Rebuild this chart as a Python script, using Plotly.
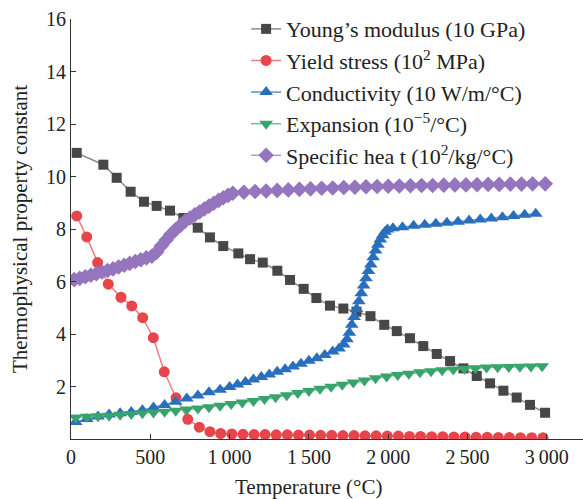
import plotly.graph_objects as go

# ---------------- data ----------------
young_T = [36, 204, 288, 376, 460, 540, 624, 708, 799, 876, 960, 1055, 1129, 1209, 1301, 1381,
           1467, 1547, 1633, 1717, 1800, 1888, 1975, 2054, 2137, 2221, 2306, 2390, 2474, 2558,
           2642, 2726, 2810, 2894, 2989]
young_v = [10.9, 10.45, 9.95, 9.42, 9.04, 8.88, 8.70, 8.42, 8.05, 7.68, 7.35, 7.07, 6.85, 6.72,
           6.41, 6.06, 5.72, 5.37, 5.08, 4.97, 4.85, 4.68, 4.35, 4.11, 3.84, 3.54, 3.24, 2.97,
           2.69, 2.40, 2.12, 1.84, 1.58, 1.30, 1.00]

yield_T = [36, 99, 168, 235, 315, 383, 452, 519, 588, 662, 736, 809, 876, 944, 1014, 1084, 1154,
           1224, 1294, 1364, 1434, 1504, 1574, 1644, 1714, 1784, 1854, 1924, 1994, 2064, 2134,
           2204, 2274, 2344, 2414, 2484, 2554, 2624, 2694, 2764, 2834, 2904, 2976]
yield_v = [8.50, 7.70, 6.72, 5.90, 5.40, 5.07, 4.62, 3.86, 2.56, 1.57, 0.75, 0.45, 0.28, 0.21,
           0.19, 0.18, 0.17, 0.17, 0.16, 0.16, 0.15, 0.15, 0.14, 0.14, 0.13, 0.13, 0.12, 0.12,
           0.11, 0.11, 0.10, 0.10, 0.09, 0.09, 0.08, 0.08, 0.07, 0.07, 0.06, 0.06, 0.05, 0.05, 0.05]

cond_T = [30, 100, 170, 240, 310, 380, 450, 520, 590, 660, 730, 800, 870, 940, 1000, 1050, 1100,
          1150, 1200, 1250, 1300, 1350, 1400, 1450, 1500, 1550, 1600, 1650, 1690, 1720, 1740,
          1755, 1770, 1785, 1800, 1815, 1830, 1845, 1860, 1875, 1890, 1905, 1920, 1935, 1950,
          1965, 1980, 1995, 2030, 2090, 2160, 2230, 2300, 2370, 2440, 2510, 2580, 2650, 2720,
          2790, 2860, 2930]
cond_v = [0.65, 0.76, 0.86, 0.93, 0.98, 1.03, 1.10, 1.20, 1.30, 1.42, 1.54, 1.66, 1.78, 1.88,
          1.98, 2.08, 2.17, 2.27, 2.36, 2.46, 2.56, 2.66, 2.76, 2.87, 2.98, 3.08, 3.20, 3.33,
          3.45, 3.60, 3.80, 4.05, 4.35, 4.65, 4.95, 5.25, 5.55, 5.85, 6.12, 6.40, 6.65, 6.92,
          7.18, 7.40, 7.60, 7.76, 7.90, 7.98, 8.03, 8.07, 8.12, 8.16, 8.20, 8.24, 8.28, 8.32,
          8.36, 8.40, 8.45, 8.50, 8.54, 8.58]

exp_T = [30, 100, 170, 240, 310, 380, 450, 520, 590, 660, 730, 800, 870, 940, 1010, 1080, 1150,
         1220, 1290, 1360, 1430, 1500, 1570, 1640, 1710, 1780, 1850, 1920, 1990, 2060, 2130,
         2200, 2270, 2340, 2410, 2480, 2550, 2620, 2690, 2760, 2830, 2900, 2970]
exp_v = [0.82, 0.85, 0.87, 0.89, 0.92, 0.95, 0.98, 1.01, 1.04, 1.08, 1.12, 1.16, 1.21, 1.27,
         1.33, 1.39, 1.45, 1.52, 1.59, 1.67, 1.75, 1.83, 1.91, 1.99, 2.07, 2.15, 2.23, 2.31,
         2.38, 2.44, 2.49, 2.54, 2.58, 2.62, 2.65, 2.68, 2.70, 2.72, 2.73, 2.74, 2.75, 2.76, 2.77]

heat_T = [20, 55, 90, 125, 160, 195, 230, 265, 300, 335, 370, 405, 440, 475, 510, 540, 570, 600,
          630, 660, 690, 720, 750, 780, 810, 840, 870, 900, 930, 960, 990, 1020, 1090, 1160,
          1230, 1300, 1370, 1440, 1510, 1580, 1650, 1720, 1790, 1860, 1930, 2000, 2070, 2140,
          2210, 2280, 2350, 2420, 2490, 2560, 2630, 2700, 2770, 2840, 2910, 2990]
heat_v = [6.07, 6.12, 6.18, 6.24, 6.30, 6.36, 6.42, 6.48, 6.55, 6.62, 6.69, 6.76, 6.83, 6.90,
          6.96, 7.12, 7.36, 7.58, 7.80, 7.98, 8.14, 8.30, 8.42, 8.54, 8.65, 8.76, 8.87, 8.98,
          9.09, 9.19, 9.28, 9.36, 9.40, 9.43, 9.45, 9.47, 9.49, 9.51, 9.53, 9.55, 9.56, 9.58,
          9.59, 9.61, 9.62, 9.63, 9.64, 9.65, 9.66, 9.66, 9.67, 9.68, 9.68, 9.69, 9.70, 9.70,
          9.71, 9.71, 9.72, 9.72]

x_tickvals = [0, 500, 1000, 1500, 2000, 2500, 3000]
x_ticktext = ["0", "500", "1\u2009000", "1\u2009500", "2\u2009000", "2\u2009500", "3\u2009000"]
y_tickvals = [2, 4, 6, 8, 10, 12, 14, 16]

names = ["Young\u2019s modulus (10 GPa)",
         "Yield stress (10<sup>2</sup> MPa)",
         "Conductivity (10 W/m/\u00b0C)",
         "Expansion (10<sup>\u22125</sup>/\u00b0C)",
         "Specific hea t (10<sup>2</sup>/kg/\u00b0C)"]

FONT = "Liberation Serif"

series = [
    (young_T, young_v, names[0], "square", 10, "#474747", "#8a8a8a"),
    (yield_T, yield_v, names[1], "circle", 11, "#e8454b", "#f07a7e"),
    (cond_T, cond_v, names[2], "triangle-up", 12, "#2a6fbe", "#5b92d0"),
    (exp_T, exp_v, names[3], "triangle-down", 12, "#38a46b", "#6cbf92"),
    (heat_T, heat_v, names[4], "diamond", 12, "#9575bd", "#b39ad0"),
]

fig = go.Figure()
for i, (xs, ys, nm, sym, sz, mc, lc) in enumerate(series):
    fig.add_trace(go.Scatter(
        x=xs, y=ys, name=nm, mode="lines+markers",
        line=dict(color=lc, width=1.5),
        marker=dict(symbol=sym, size=sz, color=mc, line=dict(width=0)),
        legendgroup=f"g{i}",
    ))

fig.add_annotation(text="Temperature (\u00b0C)", x=1500, xref="x", y=-0.082, yref="paper",
                   yanchor="top", showarrow=False, font=dict(family=FONT, size=21, color="#222"))

fig.update_layout(
    width=583, height=499,
    margin=dict(l=71, r=0, t=19, b=60),
    paper_bgcolor="white", plot_bgcolor="white",
    font=dict(family=FONT, size=20, color="#222"),
    showlegend=True,
    legend=dict(x=0.342, y=1.026, xanchor="left", yanchor="top", bgcolor="rgba(0,0,0,0)",
                font=dict(family=FONT, size=22, color="#222"), tracegroupgap=0,
                itemwidth=30),
    xaxis=dict(range=[0, 3228], tickvals=x_tickvals, ticktext=x_ticktext, ticks="inside",
               ticklen=5, tickcolor="#333", showline=True, linecolor="#333", linewidth=1,
               showgrid=False, zeroline=False, tickfont=dict(family=FONT, size=20, color="#222")),
    yaxis=dict(range=[0, 16], tickvals=y_tickvals, ticks="inside", ticklen=5, tickcolor="#333",
               showline=True, linecolor="#333", linewidth=1, showgrid=False, zeroline=False,
               tickfont=dict(family=FONT, size=20, color="#222"),
               title=dict(text="Thermophysical property constant", standoff=12,
                          font=dict(family=FONT, size=21, color="#222"))),
)

fig.write_html("out.html")
